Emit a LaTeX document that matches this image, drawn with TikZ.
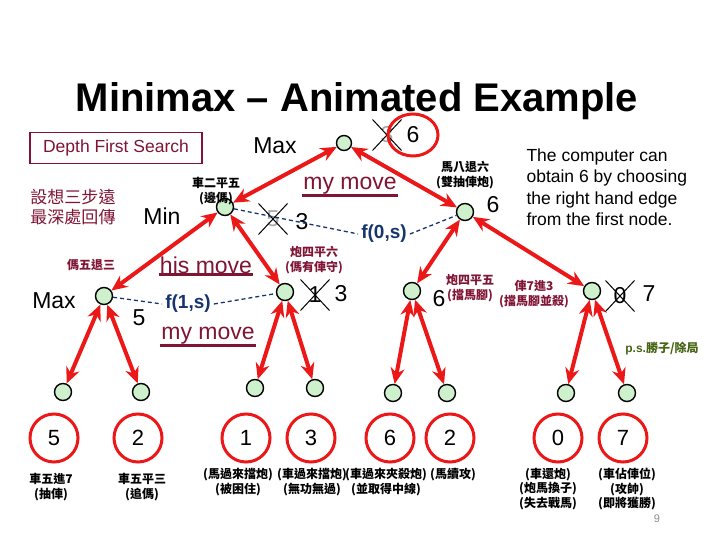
\documentclass[tikz,border=0pt]{standalone}
\usepackage{fontspec}
\setmainfont{Liberation Sans}
\newfontfamily\cjk{Noto Sans CJK TC}
\usepackage{tikz}
\usetikzlibrary{arrows.meta,positioning,shapes.misc,shapes.geometric}
\definecolor{edgered}{RGB}{236,24,24}
\definecolor{nodegreen}{RGB}{206,240,204}
\definecolor{maroon}{RGB}{128,20,52}
\definecolor{fblue}{RGB}{22,52,112}
\definecolor{psgreen}{RGB}{70,100,20}

\begin{document}
\begin{tikzpicture}[
  x=1pt, y=-1pt,
  >={Stealth[length=16pt,width=14pt]},
  gnode/.style={circle, draw=black, line width=1.4pt, fill=nodegreen, minimum size=17pt, inner sep=0pt},
  leaf/.style={circle, draw=edgered, line width=3pt, minimum size=48pt, inner sep=0pt, font=\fontsize{22}{22}\selectfont},
  edge/.style={<->, line width=4pt, draw=edgered},
  fdash/.style={line width=1.3pt, draw=fblue, dash pattern=on 4pt off 3pt},
  big/.style={font=\fontsize{23}{23}\selectfont, inner sep=0pt},
  gone/.style={big, cross out, draw=black, line width=1pt, minimum width=28pt, minimum height=30pt},
  move/.style={font=\fontsize{23}{23}\selectfont, text=maroon, inner sep=1pt},
  uline/.style={line width=2.6pt, draw=maroon},
  note/.style={font=\cjk\bfseries\fontsize{12}{14.5}\selectfont, align=center, inner sep=0pt},
  mnote/.style={note, text=maroon},
  fval/.style={font=\bfseries\fontsize{19}{19}\selectfont, text=fblue, inner sep=3pt}
]
\useasboundingbox (0,0) rectangle (720,540);

\node[font=\bfseries\fontsize{40}{40}\selectfont, anchor=base] (title) at (357,112) {Minimax -- Animated Example};

\node[draw=maroon, line width=1.5pt, minimum width=172pt, minimum height=31pt, text=maroon,
      font=\fontsize{17.5}{17.5}\selectfont] (dfs) at (116,148) {Depth First Search};
\node[font=\cjk\fontsize{17}{20}\selectfont, text=maroon, align=left] (hint) at (73,207) {設想三步遠\\最深處回傳};

\node[anchor=west, align=left, font=\fontsize{17.5}{21.5}\selectfont] (expl) at (523,187)
  {The computer can\\obtain 6 by choosing\\the right hand edge\\from the first node.};

% tree nodes
\node[gnode, minimum size=15pt] (root) at (344,143) {};
\node[gnode] (mn) at (225,207) {};
\node[gnode] (mr) at (465,212) {};
\node[gnode] (xa) at (104,296) {};
\node[gnode] (xb) at (285,292) {};
\node[gnode] (xc) at (412,291) {};
\node[gnode] (xd) at (592,291) {};
\node[gnode] (la) at (63,392) {};
\node[gnode] (lb) at (141,392) {};
\node[gnode] (lc) at (255,388) {};
\node[gnode] (ld) at (315,388) {};
\node[gnode] (le) at (393,393) {};
\node[gnode] (lf) at (447,393) {};
\node[gnode] (lg) at (566,393) {};
\node[gnode] (lh) at (627,393) {};

\node[leaf] (va) at (54,438) {5};
\node[leaf] (vb) at (138,438) {2};
\node[leaf] (vc) at (246,438) {1};
\node[leaf] (vd) at (311,438) {3};
\node[leaf] (ve) at (390,438) {6};
\node[leaf] (vf) at (450,438) {2};
\node[leaf] (vg) at (558,438) {0};
\node[leaf] (vh) at (623,438) {7};

\draw[edge] (root) -- (mn);
\draw[edge] (root) -- (mr);
\draw[edge] (mn) -- (xa);
\draw[edge] (mn) -- (xb);
\draw[edge] (mr) -- (xc);
\draw[edge] (mr) -- (xd);
\draw[edge] (xa) -- (la);
\draw[edge] (xa) -- (lb);
\draw[edge] (xb) -- (lc);
\draw[edge] (xb) -- (ld);
\draw[edge] (xc) -- (le);
\draw[edge] (xc) -- (lf);
\draw[edge] (xd) -- (lg);
\draw[edge] (xd) -- (lh);

% level labels and values
\node[big] (tmax) at (275,146) {Max};
\node[big] (tmin) at (162,216) {Min};
\node[big] (tmax2) at (54,301) {Max};

\node[gone, text=black!35] (r3) at (387,135) {3};
\node[ellipse, draw=edgered, line width=3pt, minimum width=50pt, minimum height=42pt, big] (r6) at (413,135) {6};
\node[gone, text=black!35] (m5) at (273,219) {5};
\node[big] (m3) at (302,222) {3};
\node[big] (m6) at (493,205) {6};
\node[big] (a5) at (139,318) {5};
\node[gone] (b1) at (315,295) {1};
\node[big] (b3) at (341,294) {3};
\node[big] (c6) at (439,299) {6};
\node[gone] (d0) at (620,296) {0};
\node[big] (d7) at (649,294) {7};

\node[fval] (f0) at (384,234) {f(0,s)};
\node[fval] (f1) at (188,304) {f(1,s)};
\draw[fdash] (mn) -- (f0.west);
\draw[fdash] (f0.east) -- (mr);
\draw[fdash] (xa) -- (f1.west);
\draw[fdash] (f1.east) -- (xb);

\node[move] (mm1) at (350,186) {my move};
\node[move] (hm) at (206,265) {his move};
\node[move] (mm2) at (208,336) {my move};
\draw[uline] (mm1.south west) -- (mm1.south east);
\draw[uline] (hm.south west) -- (hm.south east);
\draw[uline] (mm2.south west) -- (mm2.south east);

% move notes
\node[note] (nmn) at (216,191) {車二平五\\(邊傌)};
\node[note] (nmr) at (465,175) {馬八退六\\(雙抽俥炮)};
\node[mnote] (nxa) at (91,265) {傌五退三};
\node[mnote] (nxb) at (314,260) {炮四平六\\(傌有俥守)};
\node[mnote] (nxc) at (470,288) {炮四平五\\(擋馬腳)};
\node[mnote] (nxd) at (534,294) {俥7進3\\(擋馬腳並殺)};
\node[font=\bfseries\fontsize{12}{12}\selectfont, text=psgreen] (ps) at (662,349) {p.s.{\cjk 勝子/除局}};

\node[note] (na) at (51,487) {車五進7\\(抽俥)};
\node[note] (nb) at (142,487) {車五平三\\(追傌)};
\node[note] (nc) at (238,482) {(馬過來擋炮)\\(被困住)};
\node[note] (nd) at (312,482) {(車過來擋炮)\\(無功無過)};
\node[note] (ne) at (386,482) {(車過來夾殺炮)\\(並取得中線)};
\node[note] (nf) at (453,475) {(馬續攻)};
\node[note] (ng) at (548,489) {(車還炮)\\(炮馬換子)\\(失去戰馬)};
\node[note] (nh) at (627,489) {(車佔俥位)\\(攻帥)\\(即將獲勝)};
\node[font=\fontsize{11}{11}\selectfont, text=black!45] (pg) at (657,519) {9};
\end{tikzpicture}
\end{document}
